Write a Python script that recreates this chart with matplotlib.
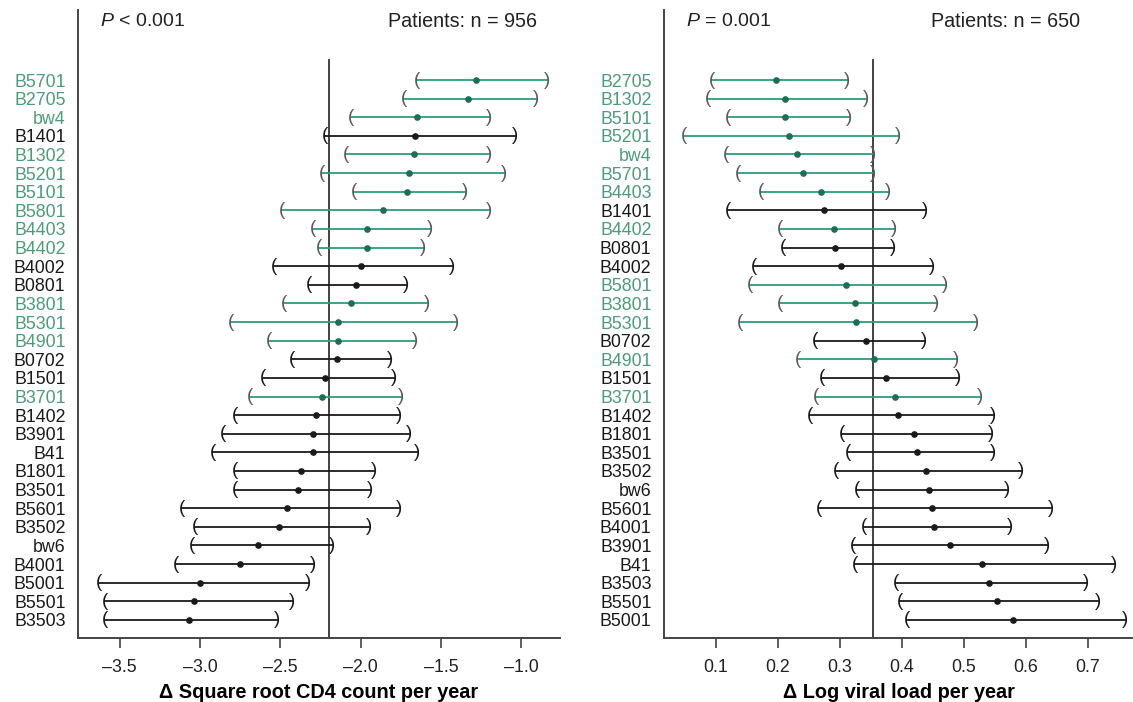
import numpy as np
import matplotlib.pyplot as plt

plt.rcParams['font.family'] = ['Liberation Sans', 'DejaVu Sans']
plt.rcParams['mathtext.fontset'] = 'custom'
plt.rcParams['mathtext.it'] = 'Liberation Sans:italic'
plt.rcParams['mathtext.rm'] = 'Liberation Sans'

# --- CD4 panel (left)
cd4_alleles = ['B5701', 'B2705', 'bw4', 'B1401', 'B1302', 'B5201', 'B5101', 'B5801',
               'B4403', 'B4402', 'B4002', 'B0801', 'B3801', 'B5301', 'B4901', 'B0702',
               'B1501', 'B3701', 'B1402', 'B3901', 'B41', 'B1801', 'B3501', 'B5601',
               'B3502', 'bw6', 'B4001', 'B5001', 'B5501', 'B3503']
cd4_est = [-1.28, -1.33, -1.65, -1.66, -1.67, -1.70, -1.71, -1.86,
           -1.96, -1.96, -2.00, -2.03, -2.06, -2.14, -2.14, -2.15,
           -2.22, -2.24, -2.28, -2.30, -2.30, -2.37, -2.39, -2.46,
           -2.51, -2.64, -2.75, -3.00, -3.04, -3.07]
cd4_lo = [-1.65, -1.73, -2.06, -2.22, -2.09, -2.24, -2.04, -2.49,
          -2.30, -2.26, -2.54, -2.32, -2.48, -2.81, -2.57, -2.43,
          -2.61, -2.69, -2.78, -2.86, -2.92, -2.78, -2.78, -3.11,
          -3.03, -3.05, -3.15, -3.63, -3.59, -3.59]
cd4_hi = [-0.84, -0.91, -1.20, -1.04, -1.20, -1.11, -1.35, -1.20,
          -1.57, -1.61, -1.43, -1.72, -1.59, -1.41, -1.66, -1.82,
          -1.79, -1.75, -1.76, -1.70, -1.65, -1.92, -1.94, -1.76,
          -1.95, -2.18, -2.30, -2.33, -2.43, -2.52]
cd4_bw4 = [1, 1, 1, 0, 1, 1, 1, 1, 1, 1, 0, 0, 1, 1, 1, 0,
           0, 1, 0, 0, 0, 0, 0, 0, 0, 0, 0, 0, 0, 0]
cd4_ref = -2.20

# --- viral load panel (right)
vl_alleles = ['B2705', 'B1302', 'B5101', 'B5201', 'bw4', 'B5701', 'B4403', 'B1401',
              'B4402', 'B0801', 'B4002', 'B5801', 'B3801', 'B5301', 'B0702', 'B4901',
              'B1501', 'B3701', 'B1402', 'B1801', 'B3501', 'B3502', 'bw6', 'B5601',
              'B4001', 'B3901', 'B41', 'B3503', 'B5501', 'B5001']
vl_est = [0.197, 0.211, 0.211, 0.218, 0.230, 0.240, 0.270, 0.274,
          0.290, 0.292, 0.301, 0.309, 0.325, 0.326, 0.342, 0.355,
          0.375, 0.389, 0.394, 0.419, 0.424, 0.439, 0.444, 0.448,
          0.452, 0.477, 0.529, 0.540, 0.553, 0.580]
vl_lo = [0.094, 0.087, 0.119, 0.048, 0.116, 0.136, 0.173, 0.120,
         0.203, 0.208, 0.162, 0.155, 0.204, 0.139, 0.259, 0.233,
         0.271, 0.262, 0.251, 0.303, 0.313, 0.294, 0.328, 0.266,
         0.339, 0.321, 0.324, 0.390, 0.397, 0.408]
vl_hi = [0.311, 0.342, 0.314, 0.394, 0.354, 0.354, 0.377, 0.438,
         0.387, 0.386, 0.449, 0.470, 0.455, 0.520, 0.436, 0.487,
         0.490, 0.526, 0.547, 0.544, 0.547, 0.593, 0.569, 0.641,
         0.574, 0.635, 0.742, 0.698, 0.717, 0.760]
vl_bw4 = [1, 1, 1, 1, 1, 1, 1, 0, 1, 0, 0, 1, 1, 1, 0, 1,
          0, 1, 0, 0, 0, 0, 0, 0, 0, 0, 0, 0, 0, 0]
vl_ref = 0.353

green_line = '#2a9e78'
green_dot = '#1d6e55'
green_text = '#4e9a7c'
dark = '#1a1a1a'

W, H = 1133, 702
fig = plt.figure(figsize=(W / 100, H / 100), dpi=100)
ax1 = fig.add_axes([78 / W, 1 - 638 / H, (560 - 78) / W, (638 - 10) / H])
ax2 = fig.add_axes([664 / W, 1 - 638 / H, (1133 - 664) / W, (638 - 10) / H])


def forest(ax, names, est, lo, hi, bw4, ref, xlim, xticks, xlabel, ptxt, ntxt, nx):
    y = np.arange(len(names))
    for i in range(len(names)):
        lc = green_line if bw4[i] else dark
        dc = green_dot if bw4[i] else dark
        pc = '#5a5a5a' if bw4[i] else dark
        ax.plot([lo[i], hi[i]], [y[i], y[i]], color=lc, lw=1.3, zorder=2)
        ax.plot(est[i], y[i], 'o', color=dc, ms=3.8, zorder=3)
        ax.text(lo[i], y[i], '(', ha='center', va='center', fontsize=13.5,
                color=pc, zorder=3)
        ax.text(hi[i], y[i], ')', ha='center', va='center', fontsize=13.5,
                color=pc, zorder=3)
    ax.plot([ref, ref], [-1.07, 30], color='#333333', lw=1.3, zorder=1)

    ax.set_xlim(*xlim)
    ax.set_ylim(29.97, -3.76)
    ax.set_xticks(xticks)
    ax.set_xticklabels([('%.1f' % t).replace('-', '\u2013') for t in xticks])
    ax.set_yticks(y)
    ax.set_yticklabels(names)
    for lab, g in zip(ax.get_yticklabels(), bw4):
        lab.set_color(green_text if g else dark)

    ax.tick_params(axis='y', length=0, pad=9, labelsize=12.8)
    ax.tick_params(axis='x', length=7, width=1.1, color='#333333', pad=8,
                   labelsize=12.8, labelcolor='#222222')
    for s in ['top', 'right']:
        ax.spines[s].set_visible(False)
    for s in ['left', 'bottom']:
        ax.spines[s].set_color('#444444')
        ax.spines[s].set_linewidth(1.4)
    ax.set_xlabel(xlabel, fontsize=14.3, fontweight='bold', labelpad=5)
    ax.text(0.046, 0.981, ptxt, transform=ax.transAxes, ha='left', va='center',
            fontsize=14, color='#222222')
    ax.text(nx, 0.981, ntxt, transform=ax.transAxes, ha='right', va='center',
            fontsize=14.2, color='#222222')


forest(ax1, cd4_alleles, cd4_est, cd4_lo, cd4_hi, cd4_bw4, cd4_ref,
       (-3.76, -0.76), [-3.5, -3.0, -2.5, -2.0, -1.5, -1.0],
       '\u0394 Square root CD4 count per year', '$P$ < 0.001',
       'Patients: n = 956', 0.952)
forest(ax2, vl_alleles, vl_est, vl_lo, vl_hi, vl_bw4, vl_ref,
       (0.016, 0.773), [0.1, 0.2, 0.3, 0.4, 0.5, 0.6, 0.7],
       '\u0394 Log viral load per year', '$P$ = 0.001',
       'Patients: n = 650', 0.887)

fig.savefig('out.png', dpi=100)
